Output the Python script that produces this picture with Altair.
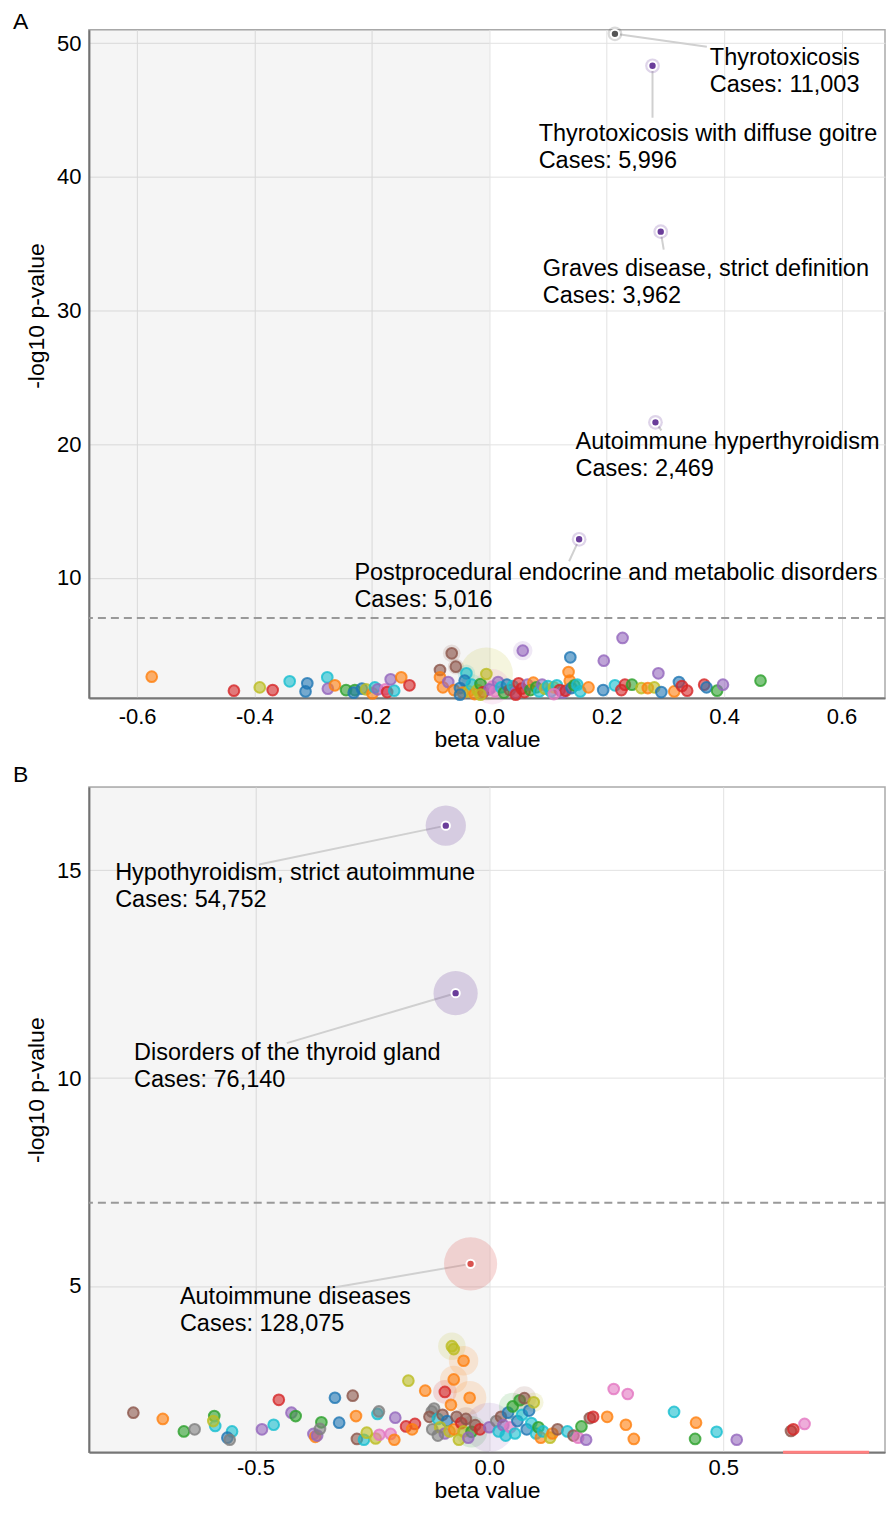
import altair as alt
import pandas as pd

CAT_DOMAIN = ["B", "O", "G", "R", "P", "N", "K", "Y", "L", "C"]
CAT_RANGE = ["#1f77b4", "#ff7f0e", "#2ca02c", "#d62728", "#9467bd",
             "#8c564b", "#e377c2", "#7f7f7f", "#bcbd22", "#17becf"]

# ---------------- Panel A data ----------------
A_beta = [-0.575, -0.435, -0.391, -0.369, -0.340, -0.310, -0.313, -0.276, -0.275, -0.263,
          -0.244, -0.229, -0.231, -0.217, -0.210, -0.199, -0.195, -0.190, -0.177, -0.174,
          -0.162, -0.168, -0.150, -0.136, -0.084, -0.084, -0.079, -0.064, -0.057, -0.039,
          -0.042, -0.070, -0.060, -0.050, -0.045, -0.035, -0.030, -0.025, -0.020, -0.015,
          -0.010, -0.005, 0.005, 0.000, 0.010, 0.015, 0.020, 0.025, 0.030, 0.035,
          0.040, 0.045, 0.050, 0.055, 0.060, 0.065, 0.070, 0.075, 0.080, 0.085,
          0.090, 0.057, 0.095, 0.100, 0.105, 0.110, 0.115, 0.120, 0.125, 0.130,
          0.138, 0.135, 0.137, 0.140, 0.145, 0.150, 0.155, 0.169, 0.194, 0.195,
          0.214, 0.225, 0.231, 0.243, 0.227, 0.259, 0.270, 0.281, 0.288, 0.293,
          0.315, 0.323, 0.328, 0.337, 0.366, 0.370, 0.388, 0.398, 0.462, 0.045,
          -0.015, 0.110, -0.050]
A_logp = [2.60, 1.55, 1.80, 1.60, 2.25, 2.10, 1.50, 2.55, 1.70, 1.95,
          1.60, 1.60, 1.40, 1.70, 1.65, 1.35, 1.80, 1.65, 1.65, 1.45,
          1.55, 2.40, 2.55, 1.95, 3.10, 2.55, 1.80, 4.35, 3.35, 2.85,
          2.30, 2.20, 1.60, 1.75, 1.40, 1.50, 2.00, 1.30, 1.60, 2.05,
          1.45, 2.80, 1.85, 1.65, 1.50, 2.20, 1.80, 1.40, 2.00, 1.60,
          1.90, 1.40, 2.10, 1.70, 1.45, 2.00, 1.60, 2.15, 1.80, 1.50,
          2.00, 4.55, 1.70, 1.90, 1.50, 1.80, 1.95, 1.60, 1.40, 1.55,
          4.05, 2.95, 2.30, 1.75, 1.95, 2.00, 1.50, 1.80, 1.60, 3.80,
          1.95, 1.60, 2.00, 2.00, 5.50, 1.75, 1.75, 1.80, 2.85, 1.45,
          1.50, 2.20, 1.90, 1.55, 2.00, 1.80, 1.55, 2.00, 2.30, 1.25,
          1.25, 1.30, 1.25]
A_cat = ["O", "R", "L", "R", "C", "B", "B", "C", "P", "O",
         "G", "G", "B", "B", "L", "O", "C", "P", "K", "R",
         "C", "P", "O", "R", "N", "O", "O", "N", "N", "C",
         "B", "P", "O", "B", "O", "L", "C", "O", "L", "G",
         "R", "L", "K", "P", "K", "P", "C", "G", "B", "N",
         "C", "P", "R", "R", "R", "P", "G", "O", "G", "C",
         "P", "P", "L", "C", "C", "L", "C", "R", "P", "R",
         "B", "O", "O", "B", "G", "C", "C", "O", "B", "P",
         "C", "R", "R", "G", "P", "L", "O", "L", "P", "B",
         "O", "B", "R", "R", "R", "B", "G", "P", "G", "R",
         "L", "K", "B"]
# relative halo weight (0 = no halo)
A_halo = [0, 0, 0, 0, 0, 0, 0, 0, 0, 0,
          0, 0, 0, 0, 0, 0, 0, 0, 0, 0,
          0, 0, 0, 0, 0, 0, 0, 1.2, 0.8, 1.2,
          0, 0, 0, 0, 0, 0, 2.6, 0, 0, 0,
          0, 100, 20, 0, 0, 0, 0, 0, 0, 0,
          0, 0, 0, 0, 0, 0, 0, 0, 0, 0,
          0, 1.8, 0, 0, 0, 0, 0, 0, 0, 0,
          0, 0, 0, 0, 0, 0, 0, 0, 0, 0,
          0, 0, 0, 0, 0, 0, 0, 0, 0, 0,
          0, 0, 0, 0, 0, 0, 0, 0, 0, 0,
          0, 0, 0]

A_ann_name = ["Thyrotoxicosis", "Thyrotoxicosis with diffuse goitre",
              "Graves disease, strict definition", "Autoimmune hyperthyroidism",
              "Postprocedural endocrine and metabolic disorders"]
A_ann_cases = ["Cases: 11,003", "Cases: 5,996", "Cases: 3,962", "Cases: 2,469", "Cases: 5,016"]
A_ann_beta = [0.214, 0.278, 0.292, 0.283, 0.153]
A_ann_logp = [50.70, 48.31, 35.90, 21.63, 12.88]
A_ann_col = ["#555555", "#6a3d9a", "#6a3d9a", "#6a3d9a", "#6a3d9a"]
A_ann_halo = [0.6, 0.6, 0.6, 0.6, 0.6]

# ---------------- Panel B data ----------------
B_beta = [-0.761, -0.698, -0.653, -0.630, -0.588, -0.586, -0.590, -0.550, -0.560, -0.555,
          -0.486, -0.461, -0.450, -0.423, -0.414, -0.376, -0.372, -0.368, -0.359, -0.362,
          -0.330, -0.292, -0.321, -0.285, -0.283, -0.268, -0.262, -0.243, -0.239, -0.236,
          -0.235, -0.201, -0.211, -0.203, -0.173, -0.137, -0.178, -0.159, -0.165,
          -0.080, -0.076, -0.055, -0.076, -0.095, -0.042, -0.082, -0.123, -0.118, -0.128,
          -0.110, -0.100, -0.090, -0.122, -0.105, -0.095, -0.085, -0.075, -0.070, -0.060,
          -0.055, -0.050, -0.038, -0.030, -0.020, -0.110, -0.065, -0.045,
          0.000, 0.015, 0.020, 0.025, 0.030, 0.035, 0.040, 0.045, 0.050, 0.055,
          0.060, 0.065, 0.070, 0.075, 0.080, 0.085, 0.090, 0.095, 0.100, 0.105,
          0.110, 0.115, 0.130, 0.135, 0.146, 0.167, 0.180, 0.190, 0.197, 0.207,
          0.215, 0.222, 0.252, 0.266, 0.296, 0.292, 0.309, 0.395, 0.442, 0.440,
          0.486, 0.529, 0.645, 0.650, 0.674]
B_logp = [1.95, 1.80, 1.50, 1.55, 1.87, 1.63, 1.75, 1.50, 1.35, 1.30,
          1.55, 1.66, 2.26, 1.95, 1.87, 1.44, 1.37, 1.40, 1.72, 1.56,
          2.31, 2.36, 1.71, 1.87, 1.32, 1.30, 1.47, 1.33, 1.92, 1.98,
          1.42, 1.83, 1.44, 1.30, 2.72, 2.48, 1.62, 1.68, 1.55,
          3.55, 3.48, 3.20, 2.75, 2.45, 2.31, 2.14, 1.98, 2.05, 1.85,
          1.80, 1.90, 1.75, 1.55, 1.60, 1.45, 1.50, 1.55, 1.85, 1.70,
          1.50, 1.80, 1.49, 1.65, 1.55, 1.40, 1.30, 1.35,
          1.60, 1.75, 1.50, 1.85, 1.65, 1.40, 1.95, 1.60, 2.10, 1.45,
          1.75, 2.25, 1.90, 2.30, 1.55, 2.00, 1.70, 2.20, 1.45, 1.60,
          1.35, 1.50, 1.35, 1.45, 1.55, 1.50, 1.40, 1.35, 1.62, 1.30,
          1.82, 1.85, 1.85, 2.52, 2.40, 1.66, 1.32, 1.97, 1.71, 1.32,
          1.49, 1.30, 1.51, 1.55, 1.68]
B_cat = ["N", "O", "G", "Y", "G", "C", "L", "C", "B", "Y",
         "P", "C", "R", "P", "G", "P", "O", "P", "G", "Y",
         "B", "N", "B", "O", "N", "C", "L", "L", "C", "Y",
         "K", "P", "K", "O", "L", "O", "R", "R", "O",
         "L", "L", "O", "O", "R", "O", "O", "Y", "Y", "N",
         "C", "N", "B", "Y", "L", "P", "L", "O", "N", "R",
         "L", "N", "G", "N", "R", "Y", "L", "P",
         "P", "Y", "C", "N", "P", "C", "B", "K", "G", "C",
         "B", "G", "C", "N", "B", "B", "C", "L", "C", "G",
         "O", "C", "L", "O", "N", "C", "N", "K", "G", "P",
         "N", "R", "O", "K", "K", "O", "O", "C", "O", "G",
         "C", "P", "N", "R", "K"]
B_halo = [0, 0, 0, 0, 0, 0, 0, 0, 0, 0,
          0, 0, 0, 0, 0, 0, 0, 0, 0, 0,
          0, 0, 0, 0, 0, 0, 0, 0, 0, 0,
          0, 0, 0, 0, 0, 0, 0, 0, 0,
          7.2, 0, 9.5, 7.2, 3.9, 15.7, 0, 0, 0, 0,
          0, 0, 0, 0, 0, 0, 0, 0, 0, 0,
          0, 3.9, 12.3, 0, 0, 0, 0, 0,
          73, 0, 0, 0, 0, 0, 0, 0, 7.2, 0,
          0, 0, 0, 3.9, 0, 0, 0, 1.9, 0, 0,
          0, 0, 0, 0, 0, 0, 0, 0, 0, 0,
          0, 0, 0, 0, 0, 0, 0, 0, 0, 0,
          0, 0, 0, 0, 0]

B_ann_name = ["Hypothyroidism, strict autoimmune", "Disorders of the thyroid gland",
              "Autoimmune diseases"]
B_ann_cases = ["Cases: 54,752", "Cases: 76,140", "Cases: 128,075"]
B_ann_beta = [-0.093, -0.072, -0.040]
B_ann_logp = [16.07, 12.04, 5.53]
B_ann_col = ["#6a3d9a", "#6a3d9a", "#d9534f"]
B_ann_halo = [33, 48, 100]

# ---------------- layout (pixels) ----------------
W = 797
A_H, B_H = 669, 666
A_XDOM, A_YDOM = [-0.682, 0.674], [1.0, 51.0]
B_XDOM, B_YDOM = [-0.856, 0.846], [1.0, 17.0]
A_XTICKS = [-0.6, -0.4, -0.2, 0.0, 0.2, 0.4, 0.6]
A_YTICKS = [10, 20, 30, 40, 50]
B_XTICKS = [-0.5, 0.0, 0.5]
B_YTICKS = [5, 10, 15]
A_LAB_OFF = [(95, 24), (-114, 68), (-118, 37), (-80, 20), (-225, 34)]
A_LEAD_OFF = [(92, 13), (0, 52), (3, 18), (6, 8), (-10, 22)]
B_LAB_OFF = [(-331, 47), (-322, 60), (-291, 33)]
B_LEAD_OFF = [(-187, 39), (-169, 50), (-144, 25)]
A_YTITLE_POS, B_YTITLE_POS = 286, 303
A_LETTER_Y, B_LETTER_Y = -1, -5
A_XLAB_PAD, B_XLAB_PAD = 8, 5
A_XTITLE_PAD, B_XTITLE_PAD = 1, 1
LINE_GAP = 27
SIG = 7.0
FONT = "Liberation Sans"


def panel(letter, letter_y, H, xdom, ydom, xticks, yticks, ytitle_pos, xlab_pad, xtitle_pad,
          beta, logp, cat, halo,
          a_name, a_cases, a_beta, a_logp, a_col, a_halo, lab_off, lead_off,
          halo_area, extra=None):
    kx = W / (xdom[1] - xdom[0])
    ky = H / (ydom[1] - ydom[0])
    X = alt.X("beta:Q", scale=alt.Scale(domain=xdom, nice=False, zero=False),
              axis=alt.Axis(values=xticks, title="beta value", titlePadding=xtitle_pad,
                            labelPadding=xlab_pad,
                            labelExpr="replace(format(datum.value, '.1f'), '\u2212', '-')"))
    Y = alt.Y("logp:Q", scale=alt.Scale(domain=ydom, nice=False, zero=False),
              axis=alt.Axis(values=yticks, format="d", title="-log10 p-value",
                            titleY=ytitle_pos))
    cscale = alt.Scale(domain=CAT_DOMAIN, range=CAT_RANGE)
    sscale = alt.Scale(type="sqrt", domain=[0, 100], range=[0, halo_area])

    pts = pd.DataFrame({"beta": beta, "logp": logp, "cat": cat, "halo": halo})
    halos = pts[pts["halo"] > 0]

    shade = alt.Chart(pd.DataFrame({"beta": [xdom[0]], "beta2": [0.0],
                                    "logp": [ydom[0]], "logp2": [ydom[1]]})).mark_rect(
        color="#000000", opacity=0.04).encode(x=X, x2="beta2", y=Y, y2="logp2")
    dash = alt.Chart(pd.DataFrame({"logp": [SIG]})).mark_rule(
        color="#999999", strokeDash=[8, 5], strokeWidth=2).encode(y=Y)
    halo_l = alt.Chart(halos).mark_circle(opacity=0.15).encode(
        x=X, y=Y, color=alt.Color("cat:N", scale=cscale, legend=None),
        size=alt.Size("halo:Q", scale=sscale, legend=None))
    pt_l = alt.Chart(pts).mark_circle(size=115, fillOpacity=0.6, strokeWidth=2,
                                      strokeOpacity=0.8).encode(
        x=X, y=Y, color=alt.Color("cat:N", scale=cscale, legend=None),
        stroke=alt.Stroke("cat:N", scale=cscale, legend=None))

    ann = pd.DataFrame({"beta": a_beta, "logp": a_logp, "col": a_col, "halo": a_halo})
    ann["beta2"] = [b + d[0] / kx for b, d in zip(a_beta, lead_off)]
    ann["logp2"] = [l - d[1] / ky for l, d in zip(a_logp, lead_off)]
    rows = []
    for i in range(len(a_name)):
        lx = a_beta[i] + lab_off[i][0] / kx
        ly = a_logp[i] - lab_off[i][1] / ky
        rows.append({"beta": lx, "logp": ly, "txt": a_name[i]})
        rows.append({"beta": lx, "logp": ly - LINE_GAP / ky, "txt": a_cases[i]})
    labs = pd.DataFrame(rows)

    lead_l = alt.Chart(ann).mark_rule(color="#d0d0d0", strokeWidth=2).encode(
        x=X, y=Y, x2="beta2", y2="logp2")
    ahalo_l = alt.Chart(ann).mark_circle(opacity=0.22).encode(
        x=X, y=Y, fill=alt.Fill("col:N", scale=None),
        size=alt.Size("halo:Q", scale=sscale, legend=None))
    adot_l = alt.Chart(ann).mark_circle(size=70, opacity=1, stroke="white",
                                        strokeWidth=2).encode(
        x=X, y=Y, fill=alt.Fill("col:N", scale=None))
    text_l = alt.Chart(labs).mark_text(align="left", baseline="middle", fontSize=23.5,
                                       font=FONT, color="black").encode(
        x=X, y=Y, text="txt:N")
    letter_l = alt.Chart(pd.DataFrame({"t": [letter]})).mark_text(
        align="left", baseline="alphabetic", fontSize=23, font=FONT, color="black").encode(
        x=alt.value(-76), y=alt.value(letter_y), text="t:N")
    layers = [shade, dash, halo_l, pt_l, lead_l, ahalo_l, adot_l, text_l, letter_l]
    if extra is not None:
        layers.append(extra(X, Y))
    return alt.layer(*layers).properties(width=W, height=H)


def red_segment(X, Y):
    return alt.Chart(pd.DataFrame({"beta": [0.628], "beta2": [0.812],
                                   "logp": [B_YDOM[0]]})).mark_rule(
        color="#ff7f7f", strokeWidth=3).encode(x=X, x2="beta2", y=Y)


A = panel("A", A_LETTER_Y, A_H, A_XDOM, A_YDOM, A_XTICKS, A_YTICKS, A_YTITLE_POS,
          A_XLAB_PAD, A_XTITLE_PAD, A_beta, A_logp, A_cat, A_halo,
          A_ann_name, A_ann_cases, A_ann_beta, A_ann_logp, A_ann_col, A_ann_halo,
          A_LAB_OFF, A_LEAD_OFF, 2827)
B = panel("B", B_LETTER_Y, B_H, B_XDOM, B_YDOM, B_XTICKS, B_YTICKS, B_YTITLE_POS,
          B_XLAB_PAD, B_XTITLE_PAD, B_beta, B_logp, B_cat, B_halo,
          B_ann_name, B_ann_cases, B_ann_beta, B_ann_logp, B_ann_col, B_ann_halo,
          B_LAB_OFF, B_LEAD_OFF, 2290, extra=red_segment)

chart = alt.vconcat(A, B, spacing=11).properties(
    padding={"left": 4, "top": 1, "right": 0, "bottom": 0}
).configure(font=FONT).configure_view(
    stroke="#aaaaaa", strokeWidth=1.5
).configure_axis(
    labelFontSize=22, titleFontSize=23, titleFontWeight="normal",
    labelColor="black", titleColor="black", labelFont=FONT, titleFont=FONT,
    ticks=False, domainColor="#777777", domainWidth=2,
    gridColor="#e2e2e2", gridWidth=1, labelPadding=8
).configure_axisY(titlePadding=8)

chart.save("out.html", embed_options={"renderer": "svg", "actions": False})
